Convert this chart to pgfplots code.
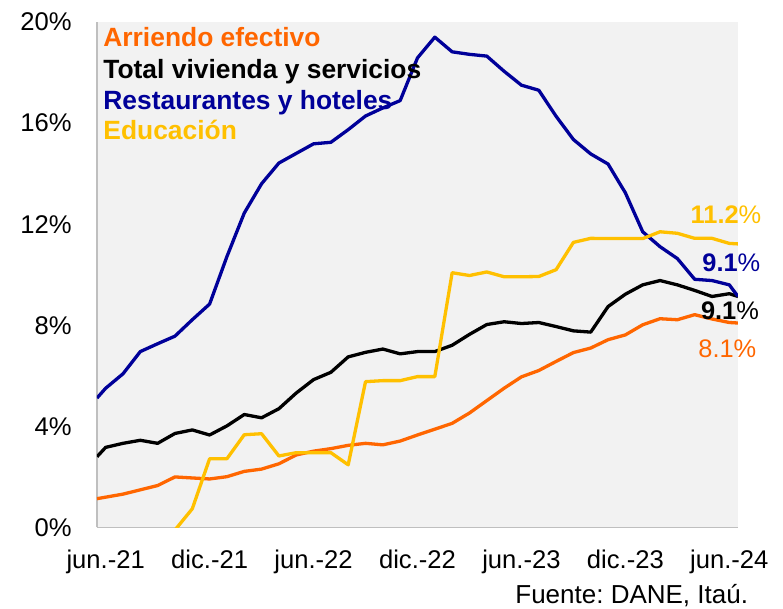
\documentclass[border=0pt]{standalone}
\usepackage{fontspec}
\setmainfont{Liberation Sans}
\usepackage{pgfplots}
\pgfplotsset{compat=1.18}
\definecolor{arr}{RGB}{255,102,0}
\definecolor{res}{RGB}{0,0,153}
\definecolor{edu}{RGB}{255,192,0}
\definecolor{bgc}{RGB}{242,242,242}
\definecolor{axc}{RGB}{191,191,191}
\frenchspacing
\begin{document}
\fontsize{12}{14.4}\selectfont
\begin{tikzpicture}
\path[use as bounding box] (-48.5pt,-40.75pt) rectangle (343pt,263.75pt);
\begin{axis}[
  at={(0pt,0pt)}, anchor=south west,
  scale only axis, width=320.5pt, height=252.75pt,
  xmin=-0.5, xmax=36.5, ymin=0, ymax=20,
  axis x line*=bottom, axis y line*=left,
  axis line style={draw=axc, line width=0.8pt},
  axis background/.style={fill=bgc},
  xtick={0,6,12,18,24,30,36},
  xticklabels={jun.-21,dic.-21,jun.-22,dic.-22,jun.-23,dic.-23,jun.-24},
  ytick={0,4,8,12,16,20},
  yticklabels={0\%,4\%,8\%,12\%,16\%,20\%},
  major tick length=0pt,
  tick style={draw=none},
  every tick label/.append style={font=\fontsize{12.8}{15}\selectfont},
  yticklabel style={anchor=east, inner sep=0pt, xshift=-12.5pt},
  xticklabel style={anchor=north, inner sep=0pt, yshift=-11pt},
  every axis plot/.append style={line width=1.65pt, line join=round, no markers},
]
\addplot[arr] coordinates {(-0.5,1.14) (0,1.2) (1,1.32) (2,1.49) (3,1.66) (4,2.0) (5,1.96) (6,1.92) (7,2.01) (8,2.22) (9,2.31) (10,2.52) (11,2.87) (12,3.02) (13,3.12) (14,3.25) (15,3.33) (16,3.27) (17,3.42) (18,3.66) (19,3.89) (20,4.12) (21,4.53) (22,5.02) (23,5.51) (24,5.96) (25,6.21) (26,6.57) (27,6.92) (28,7.1) (29,7.43) (30,7.62) (31,8.02) (32,8.26) (33,8.22) (34,8.42) (35,8.25) (36,8.11) (36.5,8.09)};
\addplot[black] coordinates {(-0.5,2.8) (0,3.17) (1,3.33) (2,3.45) (3,3.33) (4,3.72) (5,3.86) (6,3.66) (7,4.02) (8,4.47) (9,4.34) (10,4.7) (11,5.32) (12,5.85) (13,6.14) (14,6.75) (15,6.93) (16,7.06) (17,6.87) (18,6.96) (19,6.96) (20,7.21) (21,7.64) (22,8.03) (23,8.14) (24,8.07) (25,8.11) (26,7.95) (27,7.78) (28,7.73) (29,8.74) (30,9.23) (31,9.6) (32,9.77) (33,9.6) (34,9.38) (35,9.14) (36,9.25) (36.5,9.14)};
\addplot[res] coordinates {(-0.5,5.12) (0,5.51) (1,6.08) (2,6.96) (3,7.27) (4,7.57) (5,8.22) (6,8.84) (7,10.72) (8,12.44) (9,13.6) (10,14.42) (11,14.8) (12,15.18) (13,15.24) (14,15.74) (15,16.28) (16,16.6) (17,16.89) (18,18.58) (19,19.4) (20,18.82) (21,18.72) (22,18.65) (23,18.05) (24,17.5) (25,17.3) (26,16.27) (27,15.35) (28,14.78) (29,14.38) (30,13.24) (31,11.7) (32,11.11) (33,10.64) (34,9.82) (35,9.77) (36,9.6) (36.5,9.14)};
\addplot[edu] coordinates {(4,-0.1) (5,0.74) (6,2.72) (7,2.72) (8,3.67) (9,3.71) (10,2.83) (11,2.96) (12,2.96) (13,2.96) (14,2.48) (15,5.77) (16,5.81) (17,5.81) (18,5.97) (19,5.97) (20,10.08) (21,9.97) (22,10.11) (23,9.92) (24,9.92) (25,9.93) (26,10.2) (27,11.28) (28,11.44) (29,11.43) (30,11.43) (31,11.43) (32,11.7) (33,11.64) (34,11.44) (35,11.44) (36,11.24) (36.5,11.22)};
\end{axis}
\begin{scope}[every node/.style={inner sep=0pt}]
\begin{scope}[every node/.append style={font=\fontsize{13.2}{15.8}\selectfont\bfseries}]
\node[anchor=base west, text=arr] at (3pt,240.4pt) {Arriendo efectivo};
\node[anchor=base west, text=black] at (3pt,224.6pt) {Total vivienda y servicios};
\node[anchor=base west, text=res] at (3pt,208.75pt) {Restaurantes y hoteles};
\node[anchor=base west, text=edu] at (3pt,193.75pt) {Educación};
\end{scope}
\begin{scope}[every node/.append style={font=\fontsize{12.7}{15.2}\selectfont}]
\node[anchor=base east, text=edu] at (332.35pt,151.75pt) {\textbf{11.2}\%};
\node[anchor=base east, text=res] at (331.85pt,127.9pt) {\textbf{9.1}\%};
\node[anchor=base east, text=black] at (331.15pt,104.1pt) {\textbf{9.1}\%};
\node[anchor=base east, text=arr] at (329.85pt,85.1pt) {8.1\%};
\end{scope}
\node[anchor=base west, text=black, font=\fontsize{13}{15.6}\selectfont] at (209pt,-38.25pt) {Fuente: DANE, Itaú.};
\end{scope}
\end{tikzpicture}
\end{document}
